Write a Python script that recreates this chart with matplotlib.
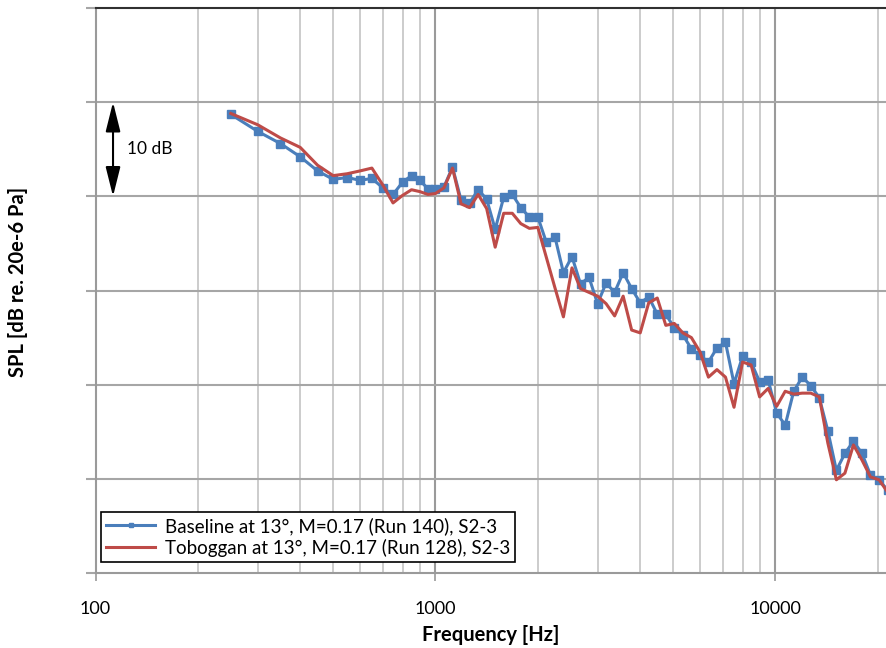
import matplotlib
matplotlib.use("Agg")
import matplotlib.pyplot as plt
from matplotlib.ticker import FixedLocator, NullFormatter, FixedFormatter
import numpy as np

plt.rcParams['font.family'] = ['Lato', 'DejaVu Sans']

freq_hz = [250, 300, 350, 400, 450, 500, 550, 600, 650, 700, 750, 800, 850, 900, 950, 1000,
           1059, 1122, 1189, 1260, 1335, 1414, 1498, 1587, 1682, 1782, 1888, 2000,
           2119, 2245, 2378, 2520, 2670, 2828, 2997, 3175, 3364, 3564, 3775, 4000,
           4238, 4490, 4757, 5040, 5339, 5657, 5993, 6350, 6727, 7127, 7551, 8000,
           8476, 8980, 9514, 10079, 10679, 11314, 11987, 12699, 13454, 14254, 15102, 16000,
           16951, 17959, 19027, 20159, 21357]

baseline_db = [88.7, 86.9, 85.6, 84.2, 82.7, 81.8, 82.0, 81.7, 81.9, 80.9, 80.2, 81.5, 82.2, 81.7, 80.8, 80.8,
               81.0, 83.1, 79.6, 79.3, 80.7, 79.7, 76.5, 79.9, 80.2, 78.8, 77.8, 77.8,
               75.1, 75.7, 71.9, 73.6, 70.7, 71.4, 68.6, 70.8, 69.8, 71.9, 70.2, 68.7,
               69.3, 67.5, 67.5, 66.0, 65.3, 63.8, 63.1, 62.4, 63.9, 64.5, 60.1, 63.0,
               62.4, 60.3, 60.5, 57.0, 55.7, 59.3, 60.8, 59.9, 58.6, 55.1, 50.9, 52.7,
               54.0, 52.7, 50.4, 49.9, 48.8]

toboggan_db = [88.8, 87.6, 86.2, 85.2, 83.3, 82.2, 82.4, 82.7, 83.0, 81.2, 79.3, 80.1, 80.7, 80.5, 80.2, 80.3,
               80.9, 83.0, 79.2, 78.8, 80.2, 78.7, 74.6, 78.2, 78.2, 77.1, 76.6, 76.7,
               73.5, 70.3, 67.2, 72.4, 70.2, 69.8, 69.4, 68.6, 67.3, 69.4, 65.8, 65.5,
               68.7, 69.2, 66.3, 66.5, 65.5, 65.0, 63.5, 60.8, 61.6, 60.8, 57.6, 62.4,
               62.1, 58.7, 59.6, 57.7, 59.3, 59.0, 59.1, 59.1, 58.7, 53.8, 49.9, 50.6,
               53.6, 52.0, 50.2, 49.9, 48.6]

series_labels = ["Baseline at 13°, M=0.17 (Run 140), S2-3",
                 "Toboggan at 13°, M=0.17 (Run 128), S2-3"]
xtick_values = [100, 1000, 10000]
xtick_labels = ["100", "1000", "10000"]
y_grid = [40, 50, 60, 70, 80, 90, 100]

W, H = 886, 648
fig = plt.figure(figsize=(W / 100, H / 100), dpi=100)
left_px, right_px, top_px, bot_px = 95.5, 886, 8, 573
ax = fig.add_axes([left_px / W, (H - bot_px) / H, (right_px - left_px) / W, (bot_px - top_px) / H])

xmax = 10 ** (2 + (right_px - left_px) / 340.0)
ax.set_xscale('log')
ax.set_xlim(100, xmax)
ax.set_ylim(40, 100)

# grid
minor = [m * d for d in (100, 1000, 10000) for m in range(2, 10) if m * d < xmax]
for xv in minor:
    ax.axvline(xv, color='#c8c8c8', lw=1.3, zorder=0)
for xv in xtick_values[1:]:
    ax.axvline(xv, color='#9a9a9a', lw=1.5, zorder=0)
for yv in y_grid[1:-1]:
    ax.axhline(yv, color='#a6a6a6', lw=1.5, zorder=0)

ax.xaxis.set_major_locator(FixedLocator(xtick_values))
ax.xaxis.set_major_formatter(FixedFormatter(xtick_labels))
ax.xaxis.set_minor_locator(FixedLocator([]))
ax.xaxis.set_minor_formatter(NullFormatter())
ax.yaxis.set_major_locator(FixedLocator(y_grid))
ax.yaxis.set_major_formatter(NullFormatter())
ax.tick_params(axis='x', which='major', direction='out', length=6, width=1.2, color='#9a9a9a',
               labelsize=13, pad=14)
ax.tick_params(axis='y', which='major', direction='out', length=7, width=1.5, color='#a6a6a6')

ax.spines['top'].set_color('#303030')
ax.spines['top'].set_linewidth(1.5)
ax.spines['left'].set_color('#9a9a9a')
ax.spines['left'].set_linewidth(1.5)
ax.spines['bottom'].set_color('#9a9a9a')
ax.spines['bottom'].set_linewidth(1.5)
ax.spines['right'].set_visible(False)

ax.plot(freq_hz, baseline_db, color='#4a7ebb', lw=2.2, marker='s', ms=5.8,
        label=series_labels[0], zorder=3, clip_on=True)
ax.plot(freq_hz, toboggan_db, color='#be4b48', lw=2.2, label=series_labels[1], zorder=4)

ax.set_xlabel("Frequency [Hz]", fontsize=14.5, fontweight='bold', labelpad=6)
fig.text(18 / W, (H - 282) / H, "SPL [dB re. 20e-6 Pa]", fontsize=14.5, fontweight='bold',
         rotation=90, ha='center', va='center')

# 10 dB scale arrow
ax.annotate("", xy=(112.6, 90), xytext=(112.6, 80),
            arrowprops=dict(arrowstyle="<|-|>,head_length=1.2,head_width=0.3",
                            mutation_scale=15, color='black', lw=1.5, shrinkA=0, shrinkB=0))
ax.text(123.8, 85, "10 dB", fontsize=12.5, va='center', ha='left')

leg = ax.legend(loc='lower left', bbox_to_anchor=(0.002, 0.012), fontsize=13.5, frameon=True,
                fancybox=False, edgecolor='black', framealpha=1, borderpad=0.3,
                handlelength=2.6, handletextpad=0.5, labelspacing=0.2, borderaxespad=0.2,
                markerscale=0.6)
leg.get_frame().set_linewidth(1.2)

fig.savefig("out.png", dpi=100)
